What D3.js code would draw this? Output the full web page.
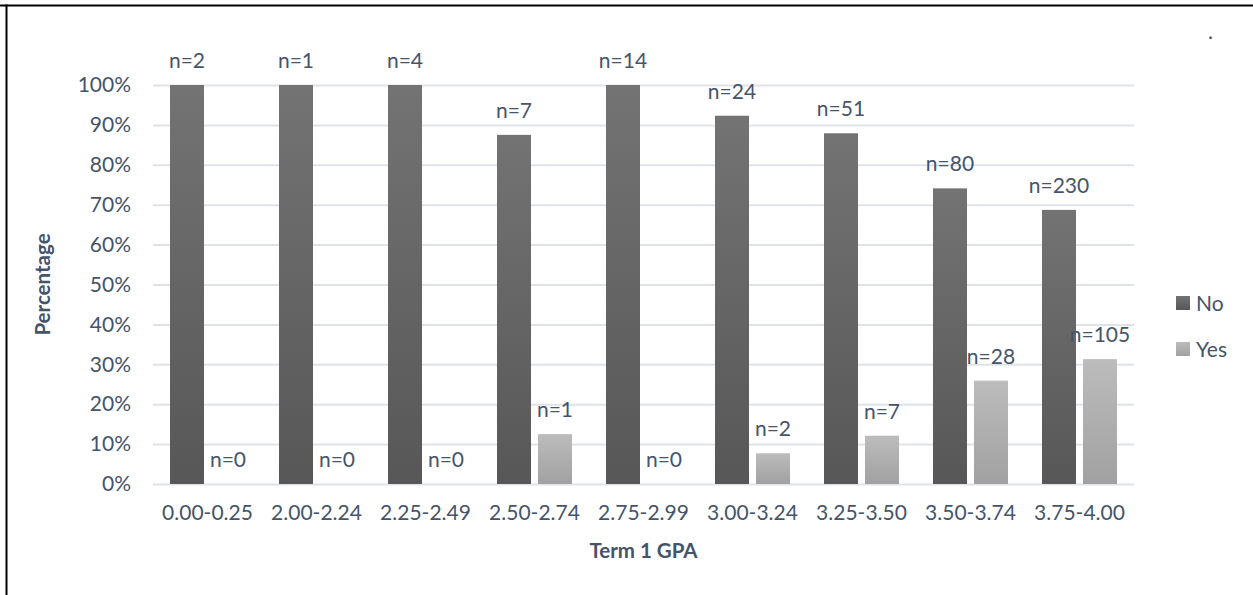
<!DOCTYPE html>
<html>
<head>
<meta charset="utf-8">
<script src="https://cdn.jsdelivr.net/npm/d3@7"></script>
<style>
  html, body { margin: 0; padding: 0; background: #fff; }
  svg { display: block; font-family: Lato, "Open Sans", sans-serif; }
</style>
</head>
<body>
<svg id="chart" width="1253" height="595"></svg>
<script>
// GPA bands on the x axis
const categories = ["0.00-0.25", "2.00-2.24", "2.25-2.49", "2.50-2.74", "2.75-2.99",
                    "3.00-3.24", "3.25-3.50", "3.50-3.74", "3.75-4.00"];
const seriesNames = ["No", "Yes"];
// Percentage of students in each band
const noPercent  = [100, 100, 100, 87.5, 100, 92.3, 87.9, 74.1, 68.7];
const yesPercent = [0, 0, 0, 12.5, 0, 7.7, 12.1, 25.9, 31.3];
// Counts shown above each bar
const noCounts  = [2, 1, 4, 7, 14, 24, 51, 80, 230];
const yesCounts = [0, 0, 0, 1, 0, 2, 7, 28, 105];
const yTicks = [0, 10, 20, 30, 40, 50, 60, 70, 80, 90, 100];

const textColor = "#44546a";
const labelSize = "21px";
const svg = d3.select("#chart");

// Frame lines along the top and left edges
svg.append("line").attr("x1", 0).attr("x2", 1253).attr("y1", 5.5).attr("y2", 5.5)
  .attr("stroke", "#000").attr("stroke-width", 2);
svg.append("line").attr("x1", 6.5).attr("x2", 6.5).attr("y1", 4.5).attr("y2", 595)
  .attr("stroke", "#000").attr("stroke-width", 2);

const plot = { left: 153, right: 1134, top: 85, bottom: 484 };

const x0 = d3.scaleBand().domain(categories).range([plot.left, plot.right]).padding(0);
const x1 = d3.scaleBand().domain(seriesNames).range([0, x0.bandwidth()])
  .paddingInner(7 / 41).paddingOuter(0.4146);
const y = d3.scaleLinear().domain([0, 100]).range([plot.bottom, plot.top]);

// Vertical gradients for the two series
const defs = svg.append("defs");
const grads = { No: ["#737373", "#575757"], Yes: ["#bcbcbc", "#a1a1a1"] };
Object.entries(grads).forEach(([k, [c1, c2]]) => {
  const g = defs.append("linearGradient").attr("id", "grad-" + k)
    .attr("x1", 0).attr("y1", 0).attr("x2", 0).attr("y2", 1);
  g.append("stop").attr("offset", "0%").attr("stop-color", c1);
  g.append("stop").attr("offset", "100%").attr("stop-color", c2);
});

// Gridlines and y tick labels
const yAxis = d3.axisLeft(y).tickValues(yTicks).tickFormat(d => d + "%")
  .tickSize(-(plot.right - plot.left)).tickPadding(22);
const gy = svg.append("g").attr("transform", `translate(${plot.left},0)`).call(yAxis);
gy.select(".domain").remove();
gy.selectAll(".tick line").attr("stroke", "#dfe3e8").attr("stroke-width", 2);
gy.selectAll(".tick text").attr("fill", textColor).style("font-size", labelSize)
  .attr("font-family", "Lato, 'Open Sans', sans-serif");

// x axis category labels
const xAxis = d3.axisBottom(x0).tickSize(0).tickPadding(21);
const gx = svg.append("g").attr("transform", `translate(0,${plot.bottom})`).call(xAxis);
gx.select(".domain").remove();
gx.selectAll(".tick text").attr("fill", textColor).style("font-size", labelSize)
  .attr("font-family", "Lato, 'Open Sans', sans-serif");

const rows = categories.map((c, i) => ({
  cat: c,
  values: [
    { key: "No", pct: noPercent[i], n: noCounts[i] },
    { key: "Yes", pct: yesPercent[i], n: yesCounts[i] }
  ]
}));

const groups = svg.append("g").selectAll("g").data(rows).join("g")
  .attr("transform", d => `translate(${x0(d.cat)},0)`);

groups.selectAll("rect").data(d => d.values).join("rect")
  .attr("x", d => x1(d.key))
  .attr("width", x1.bandwidth())
  .attr("y", d => y(d.pct))
  .attr("height", d => y(0) - y(d.pct))
  .attr("fill", d => `url(#grad-${d.key})`);

groups.selectAll("text").data(d => d.values).join("text")
  .attr("x", d => x1(d.key) + x1.bandwidth() / 2)
  .attr("y", d => y(d.pct) - 17)
  .attr("text-anchor", "middle")
  .attr("fill", textColor)
  .style("font-size", labelSize)
  .text(d => "n=" + d.n);

// Axis titles
svg.append("text")
  .attr("transform", `translate(50,${(plot.top + plot.bottom) / 2}) rotate(-90)`)
  .attr("text-anchor", "middle").attr("fill", textColor)
  .style("font-size", "20.5px").style("font-weight", "bold")
  .text("Percentage");
svg.append("text")
  .attr("x", (plot.left + plot.right) / 2).attr("y", 558)
  .attr("text-anchor", "middle").attr("fill", textColor)
  .style("font-size", "20.5px").style("font-weight", "bold")
  .text("Term 1 GPA");

// Legend
const legend = svg.append("g").selectAll("g").data(seriesNames).join("g")
  .attr("transform", (d, i) => `translate(1176,${303 + i * 46})`);
legend.append("rect").attr("x", 0).attr("y", -7).attr("width", 14).attr("height", 14)
  .attr("fill", d => `url(#grad-${d})`);
legend.append("text").attr("x", 20).attr("y", 7.5).attr("fill", textColor)
  .style("font-size", labelSize).text(d => d);

// Stray period near the top-right corner
svg.append("text").attr("x", 1208).attr("y", 39).attr("fill", textColor)
  .style("font-size", labelSize).text(".");
</script>
</body>
</html>
